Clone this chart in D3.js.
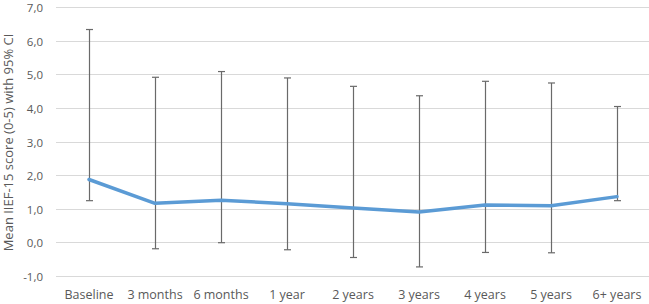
<!DOCTYPE html>
<html>
<head>
<meta charset="utf-8">
<script src="https://cdn.jsdelivr.net/npm/d3@7"></script>
<style>
  body { margin: 0; background: #fff; }
  text { font-family: "Open Sans", sans-serif; fill: #595959; }
</style>
</head>
<body>
<div id="chart"></div>
<script>
// Data
const categories = ["Baseline", "3 months", "6 months", "1 year", "2 years", "3 years", "4 years", "5 years", "6+ years"];
const meanScore = [1.90, 1.19, 1.28, 1.18, 1.05, 0.93, 1.14, 1.12, 1.39];
const ciLower = [1.27, -0.16, 0.02, -0.19, -0.42, -0.70, -0.27, -0.28, 1.27];
const ciUpper = [6.36, 4.94, 5.11, 4.92, 4.67, 4.39, 4.82, 4.77, 4.07];
const yTicks = [-1, 0, 1, 2, 3, 4, 5, 6, 7];

const width = 649, height = 304;
const margin = { top: 8, right: 0, bottom: 27, left: 56 };

const svg = d3.select("#chart").append("svg")
    .attr("width", width)
    .attr("height", height);

//Scales
const x = d3.scaleBand()
    .domain(categories)
    .range([margin.left, width + 1 - margin.right]);

const y = d3.scaleLinear()
    .domain([-1, 7])
    .range([height - margin.bottom, margin.top]);

const fmt = d => d.toFixed(1).replace(".", ",");

//Gridlines
svg.append("g")
    .selectAll("line")
    .data(yTicks)
    .join("line")
    .attr("x1", margin.left)
    .attr("x2", width)
    .attr("y1", d => Math.round(y(d)) - 0.5)
    .attr("y2", d => Math.round(y(d)) - 0.5)
    .style("stroke", "#d9d9d9")
    .style("stroke-width", 1);

//Y tick labels
svg.append("g")
    .selectAll("text")
    .data(yTicks)
    .join("text")
    .attr("x", 43)
    .attr("y", d => y(d))
    .attr("dy", "0.35em")
    .attr("text-anchor", "end")
    .style("font-size", "11.5px")
    .text(fmt);

//X labels
svg.append("g")
    .selectAll("text")
    .data(categories)
    .join("text")
    .attr("x", d => x(d) + x.bandwidth() / 2)
    .attr("y", 299)
    .attr("text-anchor", "middle")
    .style("font-size", "12.5px")
    .text(d => d);

//Y axis title
svg.append("text")
    .attr("transform", `translate(13,${(margin.top + height - margin.bottom) / 2}) rotate(-90)`)
    .attr("text-anchor", "middle")
    .style("font-size", "13px")
    .text("Mean IIEF-15 score (0-5) with 95% CI");

//Error bars
const cx = (d, i) => Math.round(x(categories[i]) + x.bandwidth() / 2) + 0.5;
const bars = svg.append("g")
    .style("stroke", "#6a6a6a")
    .style("stroke-width", 1.2);

bars.selectAll(".err")
    .data(categories)
    .join("line")
    .attr("class", "err")
    .attr("x1", cx)
    .attr("x2", cx)
    .attr("y1", (d, i) => y(ciLower[i]))
    .attr("y2", (d, i) => y(ciUpper[i]));

bars.selectAll(".capTop")
    .data(categories)
    .join("line")
    .attr("class", "capTop")
    .attr("x1", (d, i) => cx(d, i) - 3.5)
    .attr("x2", (d, i) => cx(d, i) + 3.5)
    .attr("y1", (d, i) => y(ciUpper[i]))
    .attr("y2", (d, i) => y(ciUpper[i]));

bars.selectAll(".capBottom")
    .data(categories)
    .join("line")
    .attr("class", "capBottom")
    .attr("x1", (d, i) => cx(d, i) - 3.5)
    .attr("x2", (d, i) => cx(d, i) + 3.5)
    .attr("y1", (d, i) => y(ciLower[i]))
    .attr("y2", (d, i) => y(ciLower[i]));

//Mean line
const line = d3.line()
    .x((d, i) => x(categories[i]) + x.bandwidth() / 2)
    .y(d => y(d));

svg.append("path")
    .datum(meanScore)
    .attr("d", line)
    .style("fill", "none")
    .style("stroke", "#5b9bd5")
    .style("stroke-width", 3.5)
    .style("stroke-linejoin", "round")
    .style("stroke-linecap", "round");
</script>
</body>
</html>
